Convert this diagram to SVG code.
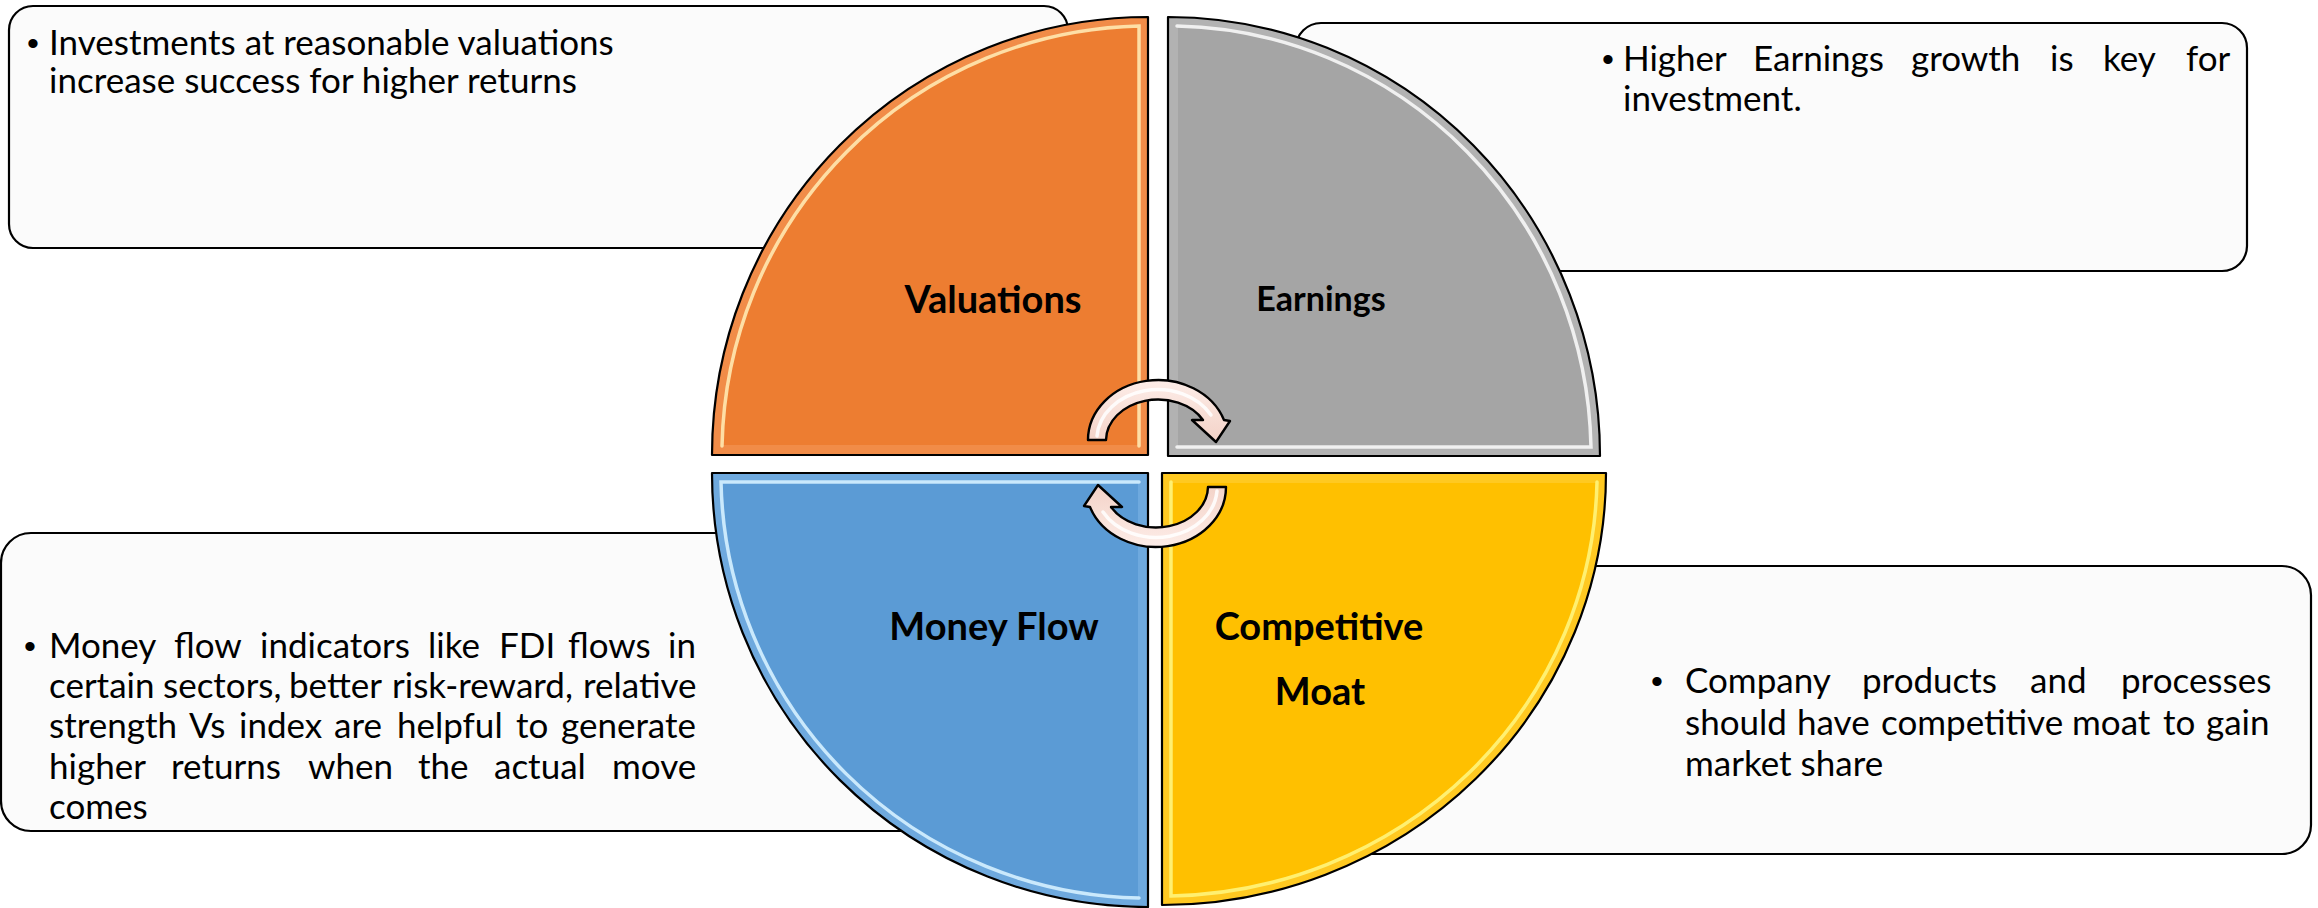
<svg xmlns="http://www.w3.org/2000/svg" width="2318" height="908" viewBox="0 0 2318 908">
<defs>
<style>
.box{fill:#FBFBFB;stroke:#000;stroke-width:2.2}
.body{font-family:Lato,'Open Sans','Liberation Sans',sans-serif;font-size:35px;fill:#000}
.bul{font-family:'Liberation Sans',Arial,sans-serif;font-size:34px;fill:#000;text-anchor:middle}
.lbl{font-family:Lato,'Liberation Sans',sans-serif;font-weight:bold;fill:#000;text-anchor:middle}
.q{stroke:#000;stroke-width:2.2;stroke-linejoin:round}
.band{fill:none;stroke-width:20;opacity:0.38}
.hl{fill:none;stroke-width:3.5;stroke-linecap:round;opacity:0.9}
.arrow{fill:url(#ag);stroke:#000;stroke-width:2.4;stroke-linejoin:round}
.ahl{fill:none;stroke:#FFFFFF;stroke-width:3.5;stroke-linecap:round;opacity:0.85}
</style>
<linearGradient id="ag" x1="0" y1="0" x2="0" y2="1">
<stop offset="0" stop-color="#FDEDE8"/>
<stop offset="1" stop-color="#F3D2C7"/>
</linearGradient>
<path id="pO" d="M1148,455 L712,455 A436,438 0 0 1 1148,17 Z"/>
<path id="pG" d="M1168,456 L1168,17 A432,439 0 0 1 1600,456 Z"/>
<path id="pB" d="M1148,473 L712,473 A436,434 0 0 0 1148,907 Z"/>
<path id="pY" d="M1162,473 L1606,473 A444,432 0 0 1 1162,905 Z"/>
<clipPath id="cO"><use href="#pO"/></clipPath>
<clipPath id="cG"><use href="#pG"/></clipPath>
<clipPath id="cB"><use href="#pB"/></clipPath>
<clipPath id="cY"><use href="#pY"/></clipPath>
<g id="arrowShape">
<path class="arrow" d="M1088,440 A70,60 0 0 1 1224,420 L1230,421 L1216,442 L1192,420 L1203,420 A52,41 0 0 0 1106,440 Z"/>
<path class="ahl" d="M1097,436 A61,50 0 0 1 1211,415"/>
</g>
</defs>
<rect width="2318" height="908" fill="#FFFFFF"/>

<g id="box-valuations">
<rect class="box" x="9" y="6" width="1059" height="242" rx="24" ry="24"/>
<text class="bul" x="33" y="55">•</text>
<text class="body" x="49" y="55">Investments at reasonable valuations</text>
<text class="body" x="49" y="93">increase success for higher returns</text>
</g>

<g id="box-earnings">
<rect class="box" x="1296" y="23" width="951" height="248" rx="25" ry="25"/>
<text class="bul" x="1608" y="71">•</text>
<text class="body" y="71"><tspan x="1623">Higher</tspan><tspan x="1753">Earnings</tspan><tspan x="1911">growth</tspan><tspan x="2050">is</tspan><tspan x="2103">key</tspan><tspan x="2186">for</tspan></text>
<text class="body" x="1623" y="111">investment.</text>
</g>

<g id="box-moneyflow">
<rect class="box" x="1" y="533" width="949" height="298" rx="30" ry="30"/>
<text class="bul" x="30" y="658">•</text>
<text class="body" y="658"><tspan x="49">Money</tspan><tspan x="174">flow</tspan><tspan x="260">indicators</tspan><tspan x="428">like</tspan><tspan x="499">FDI</tspan><tspan x="568">flows</tspan><tspan x="668">in</tspan></text>
<text class="body" y="698"><tspan x="49">certain</tspan><tspan x="163">sectors,</tspan><tspan x="289">better</tspan><tspan x="392">risk-reward,</tspan><tspan x="583">relative</tspan></text>
<text class="body" y="738"><tspan x="49">strength</tspan><tspan x="189">Vs</tspan><tspan x="239">index</tspan><tspan x="334">are</tspan><tspan x="397">helpful</tspan><tspan x="516">to</tspan><tspan x="561">generate</tspan></text>
<text class="body" y="779"><tspan x="49">higher</tspan><tspan x="171">returns</tspan><tspan x="308">when</tspan><tspan x="418">the</tspan><tspan x="494">actual</tspan><tspan x="612">move</tspan></text>
<text class="body" x="49" y="819">comes</text>
</g>

<g id="box-moat">
<rect class="box" x="1330" y="566" width="981" height="288" rx="29" ry="29"/>
<text class="bul" x="1657" y="693">•</text>
<text class="body" y="693"><tspan x="1685">Company</tspan><tspan x="1862">products</tspan><tspan x="2030">and</tspan><tspan x="2121">processes</tspan></text>
<text class="body" y="735"><tspan x="1685">should</tspan><tspan x="1797">have</tspan><tspan x="1881">competitive</tspan><tspan x="2072">moat</tspan><tspan x="2163">to</tspan><tspan x="2206">gain</tspan></text>
<text class="body" x="1685" y="776">market share</text>
</g>

<g id="node-valuations">
<use href="#pO" fill="#ED7D31"/>
<use href="#pO" class="band" stroke="#F7A66E" clip-path="url(#cO)"/>
<path class="hl" stroke="#FFE8B0" d="M722,446 A427,429 0 0 1 1139,26 L1139,446"/>
<use href="#pO" class="q" fill="none"/>
<text class="lbl" x="993" y="313" font-size="38">Valuations</text>
</g>

<g id="node-earnings">
<use href="#pG" fill="#A5A5A5"/>
<use href="#pG" class="band" stroke="#C9C9C9" clip-path="url(#cG)"/>
<path class="hl" stroke="#F6F6F6" d="M1177,26 A423,430 0 0 1 1591,447 L1177,447"/>
<use href="#pG" class="q" fill="none"/>
<text class="lbl" x="1321" y="311" font-size="34">Earnings</text>
</g>

<g id="node-moneyflow">
<use href="#pB" fill="#5B9BD5"/>
<use href="#pB" class="band" stroke="#8DC1EC" clip-path="url(#cB)"/>
<path class="hl" stroke="#D4F0FF" d="M1139,482 L721,482 A427,425 0 0 0 1139,898"/>
<use href="#pB" class="q" fill="none"/>
<text class="lbl" x="994" y="640" font-size="38">Money Flow</text>
</g>

<g id="node-moat">
<use href="#pY" fill="#FFC000"/>
<use href="#pY" class="band" stroke="#FFD857" clip-path="url(#cY)"/>
<path class="hl" stroke="#FFF47A" d="M1597,482 A435,423 0 0 1 1171,896 L1171,482"/>
<use href="#pY" class="q" fill="none"/>
<text class="lbl" x="1319" y="640" font-size="38">Competitive</text>
<text class="lbl" x="1320" y="705" font-size="38">Moat</text>
</g>

<g id="connectors">
<use href="#arrowShape"/>
<use href="#arrowShape" transform="rotate(180 1157 463.5)"/>
</g>
</svg>
